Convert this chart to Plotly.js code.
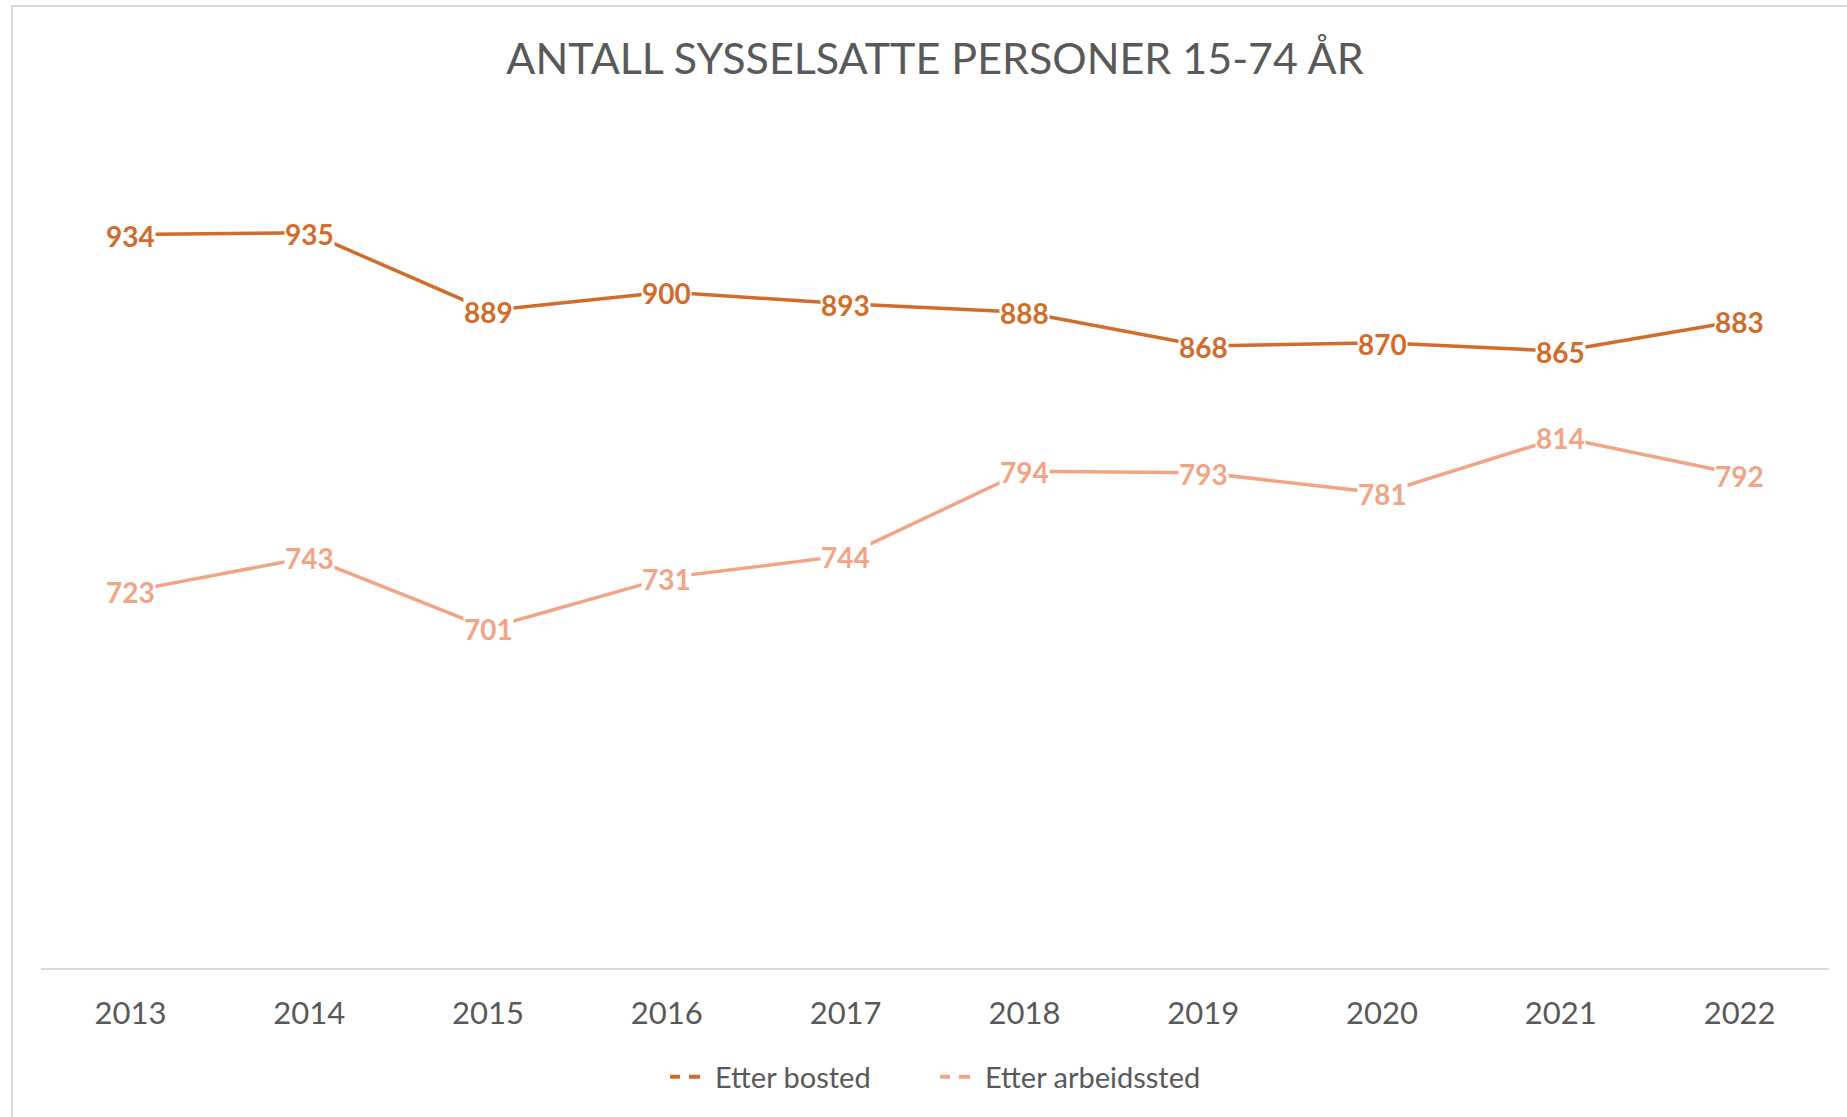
<!DOCTYPE html>
<html>
<head>
<meta charset="utf-8">
<script src="https://cdn.plot.ly/plotly-3.0.1.min.js"></script>
<style>
  html, body { margin: 0; padding: 0; background: #ffffff; }
  #chart { position: absolute; left: 0; top: 0; width: 1847px; height: 1117px; }
  #frame { position: absolute; left: 11px; top: 5px; width: 1900px; height: 1200px;
           border-left: 2px solid #d9d9d9; border-top: 2px solid #d9d9d9; pointer-events: none; }
</style>
</head>
<body>
<div id="chart"></div>
<div id="frame"></div>
<script>
const years = ['2013','2014','2015','2016','2017','2018','2019','2020','2021','2022'];
const etterBosted = [934, 935, 889, 900, 893, 888, 868, 870, 865, 883];
const etterArbeidssted = [723, 743, 701, 731, 744, 794, 793, 781, 814, 792];
const seriesNames = ['Etter bosted', 'Etter arbeidssted'];
const seriesColors = ['#D26C2A', '#F2A586'];
const titleText = 'ANTALL SYSSELSATTE PERSONER 15-74 ÅR';

const FONT = 'Lato, "Open Sans", sans-serif';
const LABEL_SIZE = 28;
const series = [etterBosted, etterArbeidssted];

const traces = [];
series.forEach((vals, i) => {
  traces.push({
    type: 'scatter',
    mode: 'lines',
    x: years,
    y: vals,
    name: seriesNames[i],
    showlegend: false,
    line: { color: seriesColors[i], width: 3.5 },
    hoverinfo: 'x+y'
  });
});
// legend entries (dashed key, as in the original)
series.forEach((vals, i) => {
  traces.push({
    type: 'scatter',
    mode: 'lines',
    x: [null], y: [null],
    name: seriesNames[i],
    showlegend: true,
    line: { color: seriesColors[i], width: 4, dash: '10px,9px,11px,30px' },
    hoverinfo: 'skip'
  });
});

// data labels centred on each point, on a white box that hides the line beneath
const annotations = [];
series.forEach((vals, i) => {
  vals.forEach((v, j) => {
    annotations.push({
      x: j, y: v, xref: 'x', yref: 'y',
      text: String(v), showarrow: false,
      xanchor: 'center', yanchor: 'middle', yshift: -1,
      bgcolor: '#ffffff', borderpad: 0,
      font: { family: FONT, size: LABEL_SIZE, color: seriesColors[i], weight: 'bold' }
    });
  });
});

const layout = {
  width: 1847, height: 1117,
  margin: { l: 41, r: 18, t: 123, b: 149 },
  paper_bgcolor: '#ffffff', plot_bgcolor: '#ffffff',
  title: {
    text: titleText,
    x: 0.5, xref: 'paper', xanchor: 'center',
    y: 1 - 59 / 1117, yref: 'container', yanchor: 'middle',
    font: { family: FONT, size: 43, color: '#595959' }
  },
  xaxis: {
    type: 'category',
    range: [-0.5, 9.5],
    showline: true, linecolor: '#d9d9d9', linewidth: 2,
    showgrid: false, zeroline: false, ticks: '',
    ticklabelstandoff: 17,
    tickfont: { family: FONT, size: 31, color: '#595959' }
  },
  yaxis: {
    range: [500, 1000],
    visible: false, showgrid: false, zeroline: false
  },
  showlegend: true,
  legend: {
    orientation: 'h', x: 0.5, xanchor: 'center', xref: 'paper',
    y: -0.129, yanchor: 'middle',
    font: { family: FONT, size: 29, color: '#595959' },
    itemwidth: 40, entrywidth: 215, tracegroupgap: 0
  },
  annotations: annotations
};

Plotly.newPlot('chart', traces, layout, { displayModeBar: false, staticPlot: true });
</script>
</body>
</html>
